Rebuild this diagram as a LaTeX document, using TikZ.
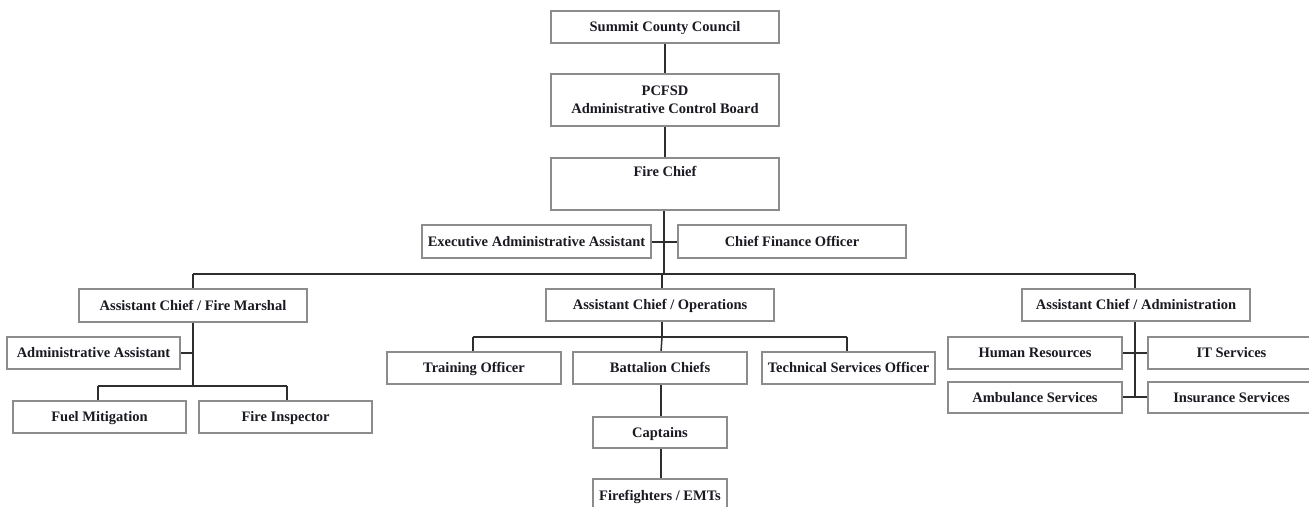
\documentclass[tikz,border=0pt]{standalone}
\usepackage{fontspec}
\setmainfont{Liberation Serif}
\begin{document}
\begin{tikzpicture}[x=1pt,y=-1pt,
  box/.style={draw=boxgray, line width=1.4pt, fill=white, inner sep=2pt,
    font=\fontsize{14.5}{18}\selectfont\bfseries, text=textdark, align=center},
  one/.style={box, text height=12pt, text depth=3pt},
  link/.style={draw=linedark, line width=1.5pt}]
\definecolor{boxgray}{HTML}{8C8C8C}
\definecolor{linedark}{HTML}{2E2E2E}
\definecolor{textdark}{HTML}{1A1A22}
\clip (0,0) rectangle (1309,506);
\useasboundingbox (0,0) rectangle (1309,506);
\fill[white] (0,0) rectangle (1309,506);

% coordinates for connector joints
\coordinate (busL) at (193,274);
\coordinate (busC) at (664,274);
\coordinate (busO) at (662,274);
\coordinate (busR) at (1135,274);
\coordinate (fmJ) at (193,353);
\coordinate (fmB) at (193,386);
\coordinate (fmBL) at (98,386);
\coordinate (fmBR) at (287,386);
\coordinate (opB) at (662,337);
\coordinate (opBL) at (473,337);
\coordinate (opBR) at (847,337);
\coordinate (adJ2) at (1135,397);

% links (drawn first, boxes cover them)
\draw[link] (665,43) -- (665,74);
\draw[link] (665,126) -- (665,158);
\draw[link] (664,210) -- (busC);
\draw[link] (651,242) -- (678,242);
\draw[link] (busL) -- (busR);
\draw[link] (busL) -- (193,289);
\draw[link] (busO) -- (662,289);
\draw[link] (busR) -- (1135,289);
\draw[link] (193,322) -- (fmB);
\draw[link] (180,353) -- (fmJ);
\draw[link] (fmBL) -- (fmBR);
\draw[link] (fmBL) -- (98,401);
\draw[link] (fmBR) -- (287,401);
\draw[link] (662,321) -- (opB);
\draw[link] (opBL) -- (opBR);
\draw[link] (opBL) -- (473,352);
\draw[link] (opB) -- (661,352);
\draw[link] (opBR) -- (847,352);
\draw[link] (661,384) -- (661,417);
\draw[link] (661,448) -- (661,479);
\draw[link] (1135,321) -- (adJ2);
\draw[link] (1122,353) -- (1148,353);
\draw[link] (1122,397) -- (1148,397);

% boxes
\node[one, minimum width=228pt, minimum height=32pt] (council) at (665,27) {Summit County Council};
\node[box, minimum width=228pt, minimum height=52pt] (pcfsd) at (665,100) {PCFSD\\Administrative Control Board};
\node[box, minimum width=228pt, minimum height=52pt, text height=11pt, text depth=27pt] (chief) at (665,184) {Fire Chief};
\node[one, minimum width=229pt, minimum height=33pt] (exec) at (536.5,241.5) {Executive Administrative Assistant};
\node[one, minimum width=228pt, minimum height=33pt] (cfo) at (792,241.5) {Chief Finance Officer};

\node[one, minimum width=228pt, minimum height=33pt] (fm) at (193,305.5) {Assistant Chief / Fire Marshal};
\node[one, minimum width=228pt, minimum height=32pt] (ops) at (660,305) {Assistant Chief / Operations};
\node[one, minimum width=228pt, minimum height=32pt] (adm) at (1136,305) {Assistant Chief / Administration};

\node[one, minimum width=173pt, minimum height=32pt] (aa) at (93.5,353) {Administrative Assistant};
\node[one, minimum width=173pt, minimum height=32pt] (fuel) at (99.5,417) {Fuel Mitigation};
\node[one, minimum width=173pt, minimum height=32pt] (insp) at (285.5,417) {Fire Inspector};

\node[one, minimum width=174pt, minimum height=32pt] (train) at (474,368) {Training Officer};
\node[one, minimum width=174pt, minimum height=32pt] (batt) at (660,368) {Battalion Chiefs};
\node[one, minimum width=173pt, minimum height=32pt] (tech) at (848.5,368) {Technical Services Officer};
\node[one, minimum width=134pt, minimum height=31pt] (capt) at (660,432.5) {Captains};
\node[one, minimum width=134pt, minimum height=34pt] (ff) at (660,496) {Firefighters / EMTs};

\node[one, minimum width=174pt, minimum height=32pt] (hr) at (1035,353) {Human Resources};
\node[one, minimum width=167pt, minimum height=32pt] (it) at (1231.5,353) {IT Services};
\node[one, minimum width=174pt, minimum height=31pt] (amb) at (1035,397.5) {Ambulance Services};
\node[one, minimum width=167pt, minimum height=31pt] (ins) at (1231.5,397.5) {Insurance Services};
\end{tikzpicture}
\end{document}
